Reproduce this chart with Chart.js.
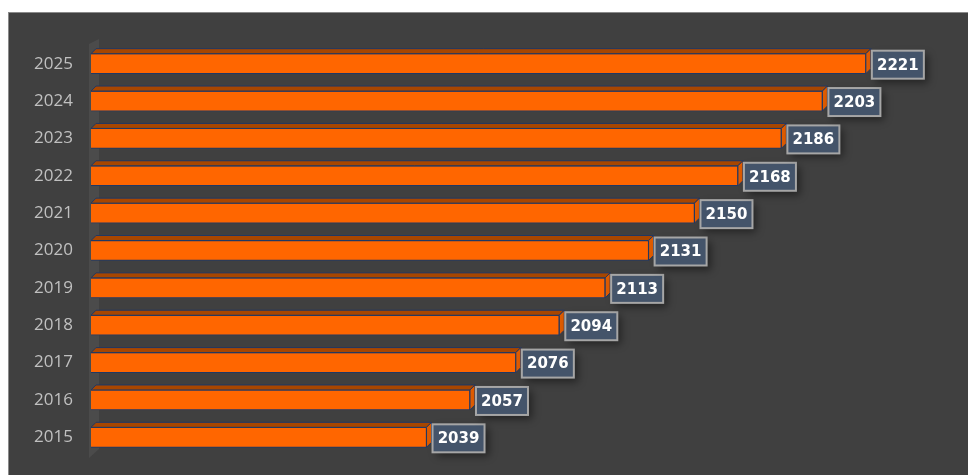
<!DOCTYPE html>
<html>
<head>
<meta charset="utf-8">
<script src="https://cdn.jsdelivr.net/npm/chart.js@4"></script>
<style>
  html, body { margin: 0; padding: 0; background: #ffffff; }
  #wrap {
    position: absolute; left: 8px; top: 12px;
    width: 959px; height: 462px;
    background: #404040;
    border-top: 1px solid #8a8a8a;
    border-left: 1px solid #8a8a8a;
  }
  #chart { display: block; width: 959px; height: 462px; }
</style>
</head>
<body>
<div id="wrap"><canvas id="chart" width="959" height="462"></canvas></div>
<script>
// years and values
const years = ["2015", "2016", "2017", "2018", "2019", "2020", "2021", "2022", "2023", "2024", "2025"];
const values = [2039, 2057, 2076, 2094, 2113, 2131, 2150, 2168, 2186, 2203, 2221];

const depth = 5;

// back wall + 3d faces of the bars
const threeD = {
    id: "threeD",
    beforeDatasetsDraw(chart) {
        const ctx = chart.ctx;
        const ca = chart.chartArea;
        ctx.save();
        ctx.fillStyle = "#4b4b4b";
        ctx.beginPath();
        ctx.moveTo(ca.left - 2, ca.top - 1);
        ctx.lineTo(ca.left + 8, ca.top - 6);
        ctx.lineTo(ca.left + 8, ca.bottom - 7);
        ctx.lineTo(ca.left - 2, ca.bottom + 2);
        ctx.closePath();
        ctx.fill();
        ctx.restore();
    },
    afterDatasetsDraw(chart) {
        const ctx = chart.ctx;
        const ca = chart.chartArea;
        const meta = chart.getDatasetMeta(0);
        ctx.save();
        ctx.lineWidth = 1;
        ctx.strokeStyle = "#203864";
        meta.data.forEach(bar => {
            const left = Math.max(bar.base, ca.left);
            const top = bar.y - bar.height / 2;
            const bottom = bar.y + bar.height / 2;
            // top face
            ctx.fillStyle = "#a84600";
            ctx.beginPath();
            ctx.moveTo(left, top);
            ctx.lineTo(left + depth, top - depth);
            ctx.lineTo(bar.x + depth, top - depth);
            ctx.lineTo(bar.x, top);
            ctx.closePath();
            ctx.fill();
            ctx.stroke();
            // side face
            ctx.fillStyle = "#e05c00";
            ctx.beginPath();
            ctx.moveTo(bar.x, top);
            ctx.lineTo(bar.x + depth, top - depth);
            ctx.lineTo(bar.x + depth, bottom - depth);
            ctx.lineTo(bar.x, bottom);
            ctx.closePath();
            ctx.fill();
            ctx.stroke();
        });
        ctx.restore();
    }
};

// value boxes at the bar ends
const valueBoxes = {
    id: "valueBoxes",
    afterDraw(chart) {
        const ctx = chart.ctx;
        const meta = chart.getDatasetMeta(0);
        ctx.save();
        ctx.font = "bold 15px 'DejaVu Sans'";
        ctx.textAlign = "center";
        ctx.textBaseline = "middle";
        meta.data.forEach((bar, i) => {
            const w = 52, h = 28;
            const x = bar.x + depth + 1;
            const y = bar.y - h / 2 + 1;
            ctx.save();
            ctx.shadowColor = "rgba(0,0,0,0.45)";
            ctx.shadowBlur = 8;
            ctx.shadowOffsetX = 4;
            ctx.shadowOffsetY = 4;
            ctx.fillStyle = "#44546a";
            ctx.fillRect(x, y, w, h);
            ctx.restore();
            ctx.lineWidth = 2;
            ctx.strokeStyle = "#a6a6a6";
            ctx.strokeRect(x, y, w, h);
            ctx.fillStyle = "#ffffff";
            ctx.fillText(String(values[i]), x + w / 2, y + h / 2 + 1);
        });
        ctx.restore();
    }
};

new Chart(document.getElementById("chart"), {
    type: "bar",
    data: {
        labels: years,
        datasets: [{
            data: values,
            backgroundColor: "#ff6600",
            borderColor: "#203864",
            borderWidth: 1,
            borderSkipped: false,
            barThickness: 20
        }]
    },
    options: {
        indexAxis: "y",
        responsive: false,
        maintainAspectRatio: false,
        animation: false,
        layout: {
            padding: { top: 32, bottom: 19, right: 8, left: 0 }
        },
        plugins: {
            legend: { display: false },
            tooltip: { enabled: false }
        },
        scales: {
            x: {
                display: false,
                min: 1900,
                max: 2260,
                afterFit(scale) { scale.height = 0; }
            },
            y: {
                reverse: true,
                afterFit(scale) {
                    scale.width = 82;
                    scale.paddingTop = 0;
                    scale.paddingBottom = 0;
                },
                grid: { display: false, drawTicks: false },
                border: { display: false },
                ticks: {
                    padding: 18,
                    color: "#c0c0c0",
                    font: { family: "'Open Sans'", size: 17 }
                }
            }
        }
    },
    plugins: [threeD, valueBoxes]
});
</script>
</body>
</html>
